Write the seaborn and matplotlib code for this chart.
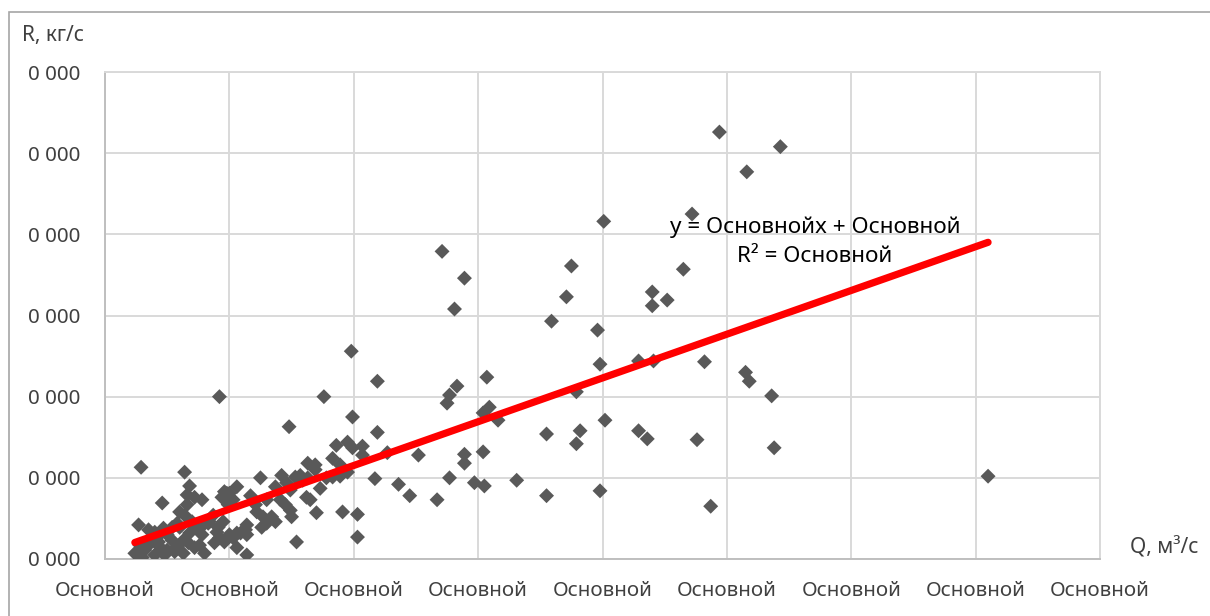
import numpy as np
import pandas as pd
import matplotlib
matplotlib.use("Agg")
import matplotlib.pyplot as plt
from matplotlib.patches import Rectangle
import seaborn as sns

# Flow rate Q (m³/s) and mass flux R (kg/s) observations
q_values = [
    4.94, 5.43, 5.16, 4.72, 4.01, 2.71, 2.89, 3.75, 4.65, 2.81,
    3.71, 4.40, 4.40, 4.52, 3.59, 3.96, 1.98, 3.98, 4.29, 4.41,
    4.82, 3.07, 2.19, 2.83, 2.77, 2.75, 3.79, 5.15, 5.18, 5.36,
    1.76, 0.92, 3.04, 3.09, 3.16, 1.99, 4.02, 1.48, 2.19, 3.55,
    3.82, 3.79, 4.29, 4.36, 4.76, 5.38, 3.31, 3.55, 3.98, 4.87,
    7.10, 2.89, 2.89, 3.04, 2.27, 2.52, 2.17, 2.36, 2.45, 2.67,
    2.77, 2.97, 3.05, 2.03, 2.03, 1.86, 1.95, 1.99, 2.07, 2.07,
    1.83, 1.63, 1.69, 0.29, 0.64, 0.68, 0.66, 0.72, 0.78, 0.46,
    0.60, 0.64, 0.27, 0.35, 0.40, 0.47, 0.54, 0.58, 0.70, 0.75,
    0.78, 0.83, 0.91, 0.95, 0.88, 0.96, 0.98, 1.03, 0.80, 0.26,
    0.30, 0.35, 0.43, 1.25, 1.42, 1.53, 1.57, 1.59, 1.63, 1.37,
    1.46, 1.49, 1.73, 1.78, 1.83, 1.06, 1.00, 0.96, 0.94, 1.41,
    1.45, 1.49, 1.50, 1.62, 1.65, 1.70, 1.91, 1.22, 1.27, 1.34,
    1.37, 1.26, 1.30, 1.14, 1.13, 1.06, 1.03, 1.00, 1.54, 1.09,
    1.14, 0.92, 0.90, 1.06, 1.14, 0.24, 0.36, 0.44, 0.50, 0.58,
    0.63, 0.68, 0.74, 0.79, 0.84, 0.60, 0.50, 0.54, 0.46, 0.63,
    0.67, 0.28, 0.32, 0.40, 0.48, 0.56, 0.72, 0.76, 0.38, 0.66,
    0.87, 0.99, 1.21, 1.30, 1.69, 1.89, 1.95, 1.17, 1.89,
]
r_values = [
    5.26, 5.08, 4.77, 4.25, 4.16, 3.79, 3.46, 3.61, 3.57, 3.08,
    3.23, 3.29, 3.12, 3.19, 2.93, 2.82, 2.56, 2.40, 2.44, 2.44,
    2.43, 2.24, 2.19, 2.13, 2.02, 1.92, 2.06, 2.30, 2.19, 2.01,
    2.00, 2.00, 1.80, 1.87, 1.71, 1.75, 1.71, 1.63, 1.56, 1.54,
    1.58, 1.42, 1.58, 1.48, 1.47, 1.37, 0.97, 0.78, 0.84, 0.65,
    1.02, 1.29, 1.18, 1.32, 1.31, 1.28, 0.99, 0.92, 0.78, 0.73,
    1.00, 0.94, 0.90, 0.55, 0.27, 1.40, 1.44, 1.37, 1.39, 1.28,
    1.24, 1.18, 1.16, 1.13, 1.07, 0.90, 0.79, 0.76, 0.73, 0.69,
    0.58, 0.54, 0.42, 0.36, 0.33, 0.38, 0.39, 0.44, 0.46, 0.36,
    0.30, 0.44, 0.39, 0.46, 0.20, 0.21, 0.81, 0.73, 0.07, 0.05,
    0.02, 0.17, 0.21, 1.00, 1.03, 1.01, 1.03, 0.97, 1.00, 0.89,
    0.94, 0.85, 0.87, 1.00, 1.01, 0.89, 0.81, 0.83, 0.76, 0.73,
    0.67, 0.60, 0.52, 0.76, 0.73, 0.57, 0.58, 0.58, 0.52, 0.52,
    0.46, 0.39, 0.44, 0.42, 0.36, 0.32, 0.26, 0.30, 0.21, 0.32,
    0.30, 0.26, 0.33, 0.14, 0.05, 0.07, 0.20, 0.15, 0.11, 0.15,
    0.07, 0.32, 0.39, 0.42, 0.46, 0.39, 0.30, 0.23, 0.33, 0.23,
    0.20, 0.17, 0.11, 0.05, 0.05, 0.09, 0.14, 0.17, 0.26, 0.67,
    0.54, 0.67, 0.67, 0.73, 1.10, 1.02, 1.07, 0.78, 1.16,
]

x_ticks = [0, 1, 2, 3, 4, 5, 6, 7, 8]
y_ticks = [0, 1, 2, 3, 4, 5, 6]
x_tick_labels = ["Основной"] * len(x_ticks)
y_tick_labels = ["0 000"] * len(y_ticks)

x_title = "Q, м³/с"
y_title = "R, кг/с"
equation_text = "y = Основнойx + Основной\nR² = Основной"

df = pd.DataFrame({"Q": q_values, "R": r_values})

sns.set_theme(style="white")
plt.rcParams["font.family"] = ["Noto Sans", "DejaVu Sans"]

text_color = "#404040"
grid_color = "#d9d9d9"
axis_color = "#bfbfbf"

fig = plt.figure(figsize=(12.10, 6.16), dpi=100)
ax = fig.add_axes([105 / 1210, 57 / 616, 995 / 1210, 487 / 616])

sns.scatterplot(data=df, x="Q", y="R", ax=ax, marker="D", s=58,
                color="#595959", edgecolor="none", linewidth=0, zorder=3)
sns.regplot(data=df, x="Q", y="R", ax=ax, scatter=False, ci=None,
            truncate=True,
            line_kws={"color": "#ff0000", "linewidth": 5.2,
                      "solid_capstyle": "round", "zorder": 4})

ax.set_xlim(x_ticks[0], x_ticks[-1])
ax.set_ylim(y_ticks[0], y_ticks[-1])
ax.set_xticks(x_ticks)
ax.set_yticks(y_ticks)
ax.set_xticklabels(x_tick_labels)
ax.set_yticklabels(y_tick_labels)
ax.tick_params(axis="both", length=0, labelsize=14.8, colors=text_color)
ax.tick_params(axis="y", pad=18)
ax.tick_params(axis="x", pad=16)
ax.set_xlabel("")
ax.set_ylabel("")

ax.grid(True, color=grid_color, linewidth=1.4, zorder=0)
ax.set_axisbelow(True)
for side in ("top", "right"):
    ax.spines[side].set_color(grid_color)
    ax.spines[side].set_linewidth(1.4)
for side in ("left", "bottom"):
    ax.spines[side].set_color(axis_color)
    ax.spines[side].set_linewidth(1.4)

fig.text(22 / 1210, 1 - 36 / 616, y_title, fontsize=15, color=text_color,
         ha="left", va="center")
fig.text(1130 / 1210, 1 - 548 / 616, x_title, fontsize=15, color=text_color,
         ha="left", va="center")
fig.text(815 / 1210, 1 - 242 / 616, equation_text, fontsize=16.2,
         color="#000000", ha="center", va="center", linespacing=1.5)

fig.patches.append(Rectangle((9 / 1210, -0.05), 1.2, 1 - 12 / 616 + 0.05,
                             transform=fig.transFigure, fill=False,
                             edgecolor="#a6a6a6", linewidth=1.2))

fig.savefig("out.png", dpi=100)
